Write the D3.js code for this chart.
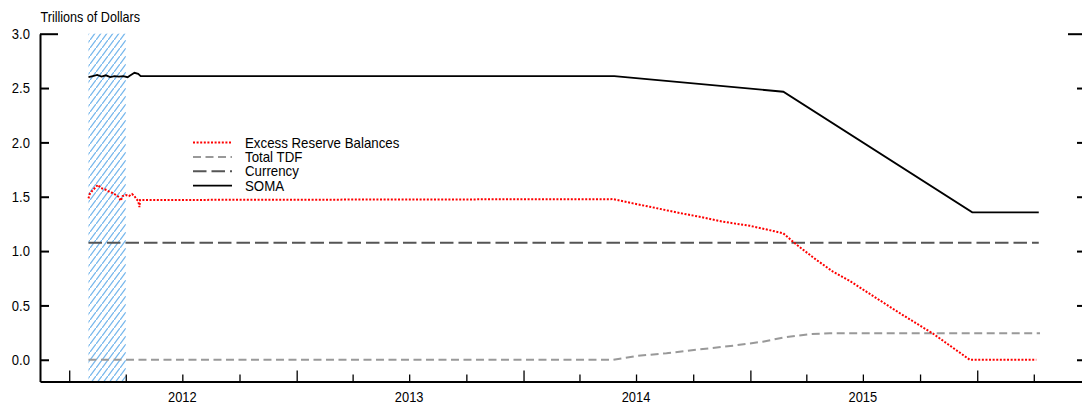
<!DOCTYPE html>
<html><head><meta charset="utf-8">
<script src="https://cdn.jsdelivr.net/npm/d3@7"></script>
<style>
html,body{margin:0;padding:0;background:#fff;}
svg{display:block;}
text{font-family:"Liberation Sans",Arial,Helvetica,sans-serif;fill:#000;}
</style>
</head><body>
<svg id="c" width="1082" height="411"></svg>
<script>
// ---------- data ----------
const yTicks = [0.0, 0.5, 1.0, 1.5, 2.0, 2.5, 3.0];
const yearLabels = ["2012", "2013", "2014", "2015"];
const shadeDates = ["2012-02-01", "2012-04-01"];
const legendLabels = ["Excess Reserve Balances", "Total TDF", "Currency", "SOMA"];

const somaDates = ["2012-02-01","2012-02-08","2012-02-15","2012-02-22","2012-02-29","2012-03-07","2012-03-14","2012-03-21","2012-03-28","2012-04-04","2012-04-08","2012-04-15","2012-04-21","2012-04-25","2012-05-01","2014-05-27","2015-02-23","2015-12-24","2016-04-09"];
const somaValues = [2.600,2.610,2.620,2.605,2.617,2.600,2.610,2.605,2.610,2.600,2.615,2.640,2.630,2.610,2.610,2.610,2.466,1.356,1.356];

const erbDates = ["2012-02-01","2012-02-03","2012-02-08","2012-02-13","2012-02-16","2012-02-21","2012-02-26","2012-03-01","2012-03-06","2012-03-11","2012-03-16","2012-03-21","2012-03-24","2012-03-27","2012-04-01","2012-04-06","2012-04-11","2012-04-15","2012-04-18","2012-04-21","2012-04-23","2012-04-24","2012-05-01","2014-05-25","2014-06-26","2014-07-23","2014-09-04","2014-10-11","2014-11-18","2014-12-31","2015-02-12","2015-02-23","2015-03-16","2015-04-17","2015-05-14","2015-06-10","2015-07-07","2015-08-29","2015-10-22","2015-12-20","2016-04-05"];
const erbValues = [1.485,1.525,1.562,1.589,1.610,1.580,1.571,1.562,1.543,1.534,1.516,1.497,1.462,1.506,1.516,1.506,1.525,1.506,1.479,1.461,1.405,1.470,1.470,1.478,1.439,1.408,1.356,1.316,1.270,1.233,1.178,1.163,1.060,0.920,0.810,0.725,0.625,0.430,0.240,0.000,0.000];

const tdfDates = ["2012-02-01","2014-05-25","2014-07-02","2014-08-19","2014-10-11","2014-12-04","2015-01-21","2015-02-23","2015-04-06","2015-05-09","2016-04-11"];
const tdfValues = [0,0,0.035,0.060,0.095,0.130,0.166,0.205,0.235,0.245,0.245];

const currencyDates = ["2012-02-01","2016-04-09"];
const currencyValues = [1.077,1.077];

// ---------- setup ----------
const parse = d3.timeParse("%Y-%m-%d");
const svg = d3.select("#c");
const plot = {left: 40, right: 1086, top: 33.7, bottom: 381.5};
const x = d3.scaleTime().domain([parse("2011-11-15"), parse("2016-06-24")]).range([plot.left, plot.right]);
const y = d3.scaleLinear().domain([-0.2, 3.0]).range([plot.bottom, plot.top]);

const zip = (ds, vs) => ds.map((d, i) => ({date: parse(d), value: vs[i]}));

// hatch pattern
const defs = svg.append("defs");
const pat = defs.append("pattern").attr("id", "hatch")
  .attr("patternUnits", "userSpaceOnUse").attr("width", 6).attr("height", 8);
pat.append("path").attr("d", "M-1,9.333 L7,-1.333")
  .attr("stroke", "#74b6ec").attr("stroke-width", 1.3).attr("fill", "none");

svg.append("rect")
  .attr("x", x(parse(shadeDates[0])))
  .attr("width", x(parse(shadeDates[1])) - x(parse(shadeDates[0])))
  .attr("y", y(3.0))
  .attr("height", y(-0.2) - y(3.0))
  .attr("fill", "url(#hatch)");

// series
const line = d3.line().x(d => x(d.date)).y(d => y(d.value));
const styles = {
  erb: {stroke: "#ff0000", width: 2, dash: "2,1.6"},
  tdf: {stroke: "#999999", width: 2, dash: "8,4.5"},
  cur: {stroke: "#555555", width: 2, dash: "13.5,5"},
  soma: {stroke: "#000000", width: 1.8, dash: null}
};
const series = [
  {key: "cur", data: zip(currencyDates, currencyValues)},
  {key: "tdf", data: zip(tdfDates, tdfValues)},
  {key: "soma", data: zip(somaDates, somaValues)},
  {key: "erb", data: zip(erbDates, erbValues)}
];
series.forEach(s => {
  const st = styles[s.key];
  svg.append("path").datum(s.data)
    .attr("d", line).attr("fill", "none")
    .attr("stroke", st.stroke).attr("stroke-width", st.width)
    .attr("stroke-dasharray", st.dash);
});

// axes
const sx = 0.9;
const yAxis = d3.axisLeft(y).tickValues(yTicks).tickFormat(d3.format(".1f"))
  .tickSizeInner(-9).tickSizeOuter(0).tickPadding(10);
const gy = svg.append("g").attr("transform", `translate(${plot.left},0)`).call(yAxis);
gy.select(".domain").attr("stroke-width", 2);
gy.selectAll(".tick line").attr("stroke-width", 2).attr("x2", d => d === 3 ? 18 : 9);
gy.selectAll(".tick text").attr("font-size", 14.5).attr("font-family", null)
  .attr("x", -10 / sx).attr("transform", `scale(${sx},1)`);

const yAxisR = d3.axisLeft(y).tickValues(yTicks).tickFormat("")
  .tickSizeInner(9).tickSizeOuter(0);
const gyr = svg.append("g").attr("transform", `translate(${plot.right},0)`).call(yAxisR);
gyr.select(".domain").attr("stroke-width", 2);
gyr.selectAll(".tick line").attr("stroke-width", 2).attr("x2", d => d === 3 ? -18 : -9);

const quarterTicks = d3.timeMonth.every(3).range(x.domain()[0], x.domain()[1]);
const xAxis = d3.axisBottom(x).tickValues(quarterTicks).tickFormat("")
  .tickSizeInner(-7).tickSizeOuter(0);
const gx = svg.append("g").attr("transform", `translate(0,${plot.bottom})`).call(xAxis);
gx.select(".domain").attr("stroke-width", 2.2);
gx.selectAll(".tick line").attr("stroke-width", 1.3)
  .attr("y2", d => d.getMonth() === 0 ? -11 : -7);

yearLabels.forEach(yr => {
  const cx = x(parse(yr + "-07-01"));
  svg.append("text")
    .attr("transform", `translate(${cx},401.7) scale(0.92,1)`)
    .attr("text-anchor", "middle").attr("font-size", 14).text(yr);
});

// title
svg.append("text").attr("transform", "translate(40.5,21.7) scale(0.9,1)")
  .attr("font-size", 14).text("Trillions of Dollars");

// legend
const legendKeys = ["erb", "tdf", "cur", "soma"];
legendLabels.forEach((lab, i) => {
  const by = 147.5 + i * 14.4;
  const st = styles[legendKeys[i]];
  svg.append("line").attr("x1", 193).attr("x2", 232).attr("y1", by - 5).attr("y2", by - 5)
    .attr("stroke", st.stroke).attr("stroke-width", st.width).attr("stroke-dasharray", st.dash);
  svg.append("text").attr("transform", `translate(245,${by}) scale(0.95,1)`)
    .attr("font-size", 14).text(lab);
});
</script>
</body></html>
